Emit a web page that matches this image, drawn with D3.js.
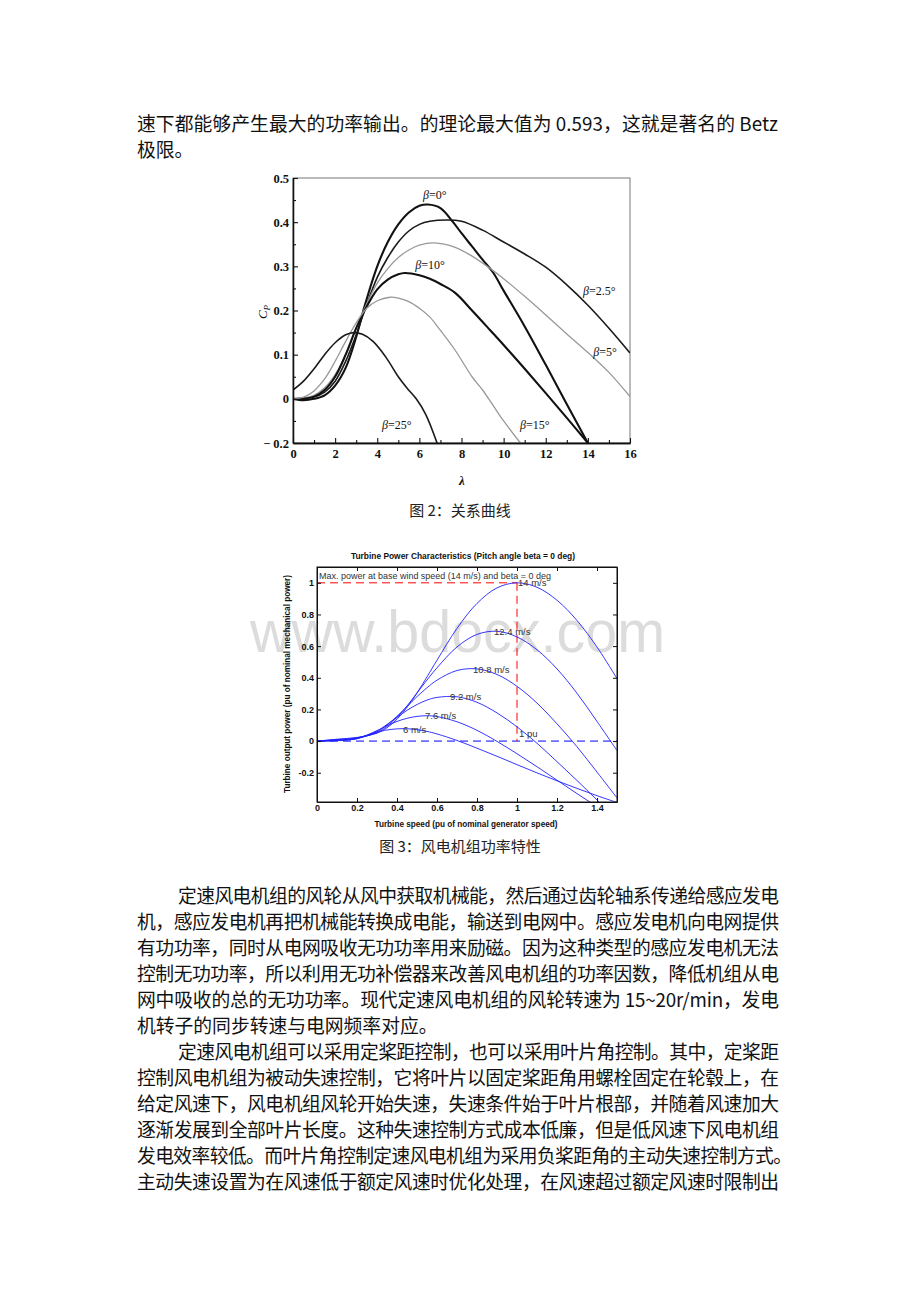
<!DOCTYPE html>
<html><head><meta charset="utf-8">
<script src="https://cdn.jsdelivr.net/npm/d3@7"></script>
<style>body{margin:0;background:#fff}svg{display:block}</style>
</head><body>
<svg id="page" width="920" height="1302"></svg>
<script>
// ---------- Figure 2 data: Cp vs lambda for pitch angles ----------
const betaLabels = ["β=0°", "β=2.5°", "β=5°", "β=10°", "β=15°", "β=25°"];
const lambdaB0  = [0,0.5,1,1.5,2,2.5,3,3.4,4,4.5,5,5.5,6,6.4,7,7.6,8,8.5,9,9.5,10,11,12,13,14];
const cpB0      = [0,-0.003,0,0.008,0.03,0.07,0.14,0.21,0.3,0.355,0.395,0.422,0.437,0.44,0.432,0.40,0.375,0.345,0.315,0.286,0.245,0.164,0.077,-0.012,-0.1];
const lambdaB25 = [0,0.5,1,1.5,2,2.5,3,3.4,4,4.5,5,5.5,6,6.5,7.3,8,9,10,11,12,13,14,15,16];
const cpB25     = [0,0.002,0.004,0.015,0.04,0.085,0.145,0.2,0.275,0.32,0.355,0.38,0.395,0.402,0.405,0.402,0.382,0.355,0.328,0.298,0.258,0.212,0.16,0.104];
const lambdaB5  = [0,0.5,1,1.5,2,2.5,3,3.4,4,4.5,5,5.5,6,6.7,7.7,8.5,9.45,10,11,12,13,14,15,16];
const cpB5      = [0,0.002,0.008,0.025,0.055,0.1,0.16,0.205,0.262,0.295,0.32,0.337,0.348,0.353,0.343,0.323,0.292,0.272,0.232,0.19,0.147,0.105,0.06,0.005];
const lambdaB10 = [0,0.5,1,1.5,2,2.5,3,3.4,4,4.5,5,5.3,6,6.5,7,7.7,8.5,9.35,10,11,12,13,14];
const cpB10     = [0,0,0.005,0.02,0.05,0.1,0.16,0.2,0.248,0.27,0.282,0.285,0.28,0.272,0.26,0.24,0.2,0.156,0.122,0.068,0.013,-0.043,-0.1];
const lambdaB15 = [0,0.5,1,1.5,2,2.5,3,3.5,4,4.6,5,5.5,6,6.5,7,7.7,8.5,9,9.5,10,10.8];
const cpB15     = [0,0.004,0.018,0.045,0.085,0.13,0.172,0.205,0.222,0.23,0.228,0.22,0.205,0.185,0.155,0.11,0.05,0.02,-0.015,-0.05,-0.1];
const lambdaB25b= [0,0.5,1,1.5,2,2.5,2.9,3.3,3.8,4.4,5,5.4,5.85,6.3,6.84];
const cpB25b    = [0.02,0.04,0.068,0.1,0.127,0.145,0.15,0.146,0.13,0.095,0.05,0.025,0,-0.035,-0.1];
// label anchor positions (lambda, Cp)
const betaLabelLambda = [6.17, 13.77, 14.25, 5.8, 10.78, 4.23];
const betaLabelCp     = [0.461, 0.244, 0.106, 0.303, -0.059, -0.059];
const xTicks1 = [0,2,4,6,8,10,12,14,16];
const yTicks1 = [-0.1,0,0.1,0.2,0.3,0.4,0.5];
const yTickLabels1 = ["\u2212 0.2","0","0.1","0.2","0.3","0.4","0.5"];

// ---------- Figure 3 data: turbine power characteristics ----------
const windLabels = ["6 m/s","7.6 m/s","9.2 m/s","10.8 m/s","12.4 m/s","14 m/s"];
const turbineSpeed = [0,0.1,0.2,0.3,0.35,0.4,0.45,0.5,0.55,0.6,0.7,0.8,0.9,1.0,1.1,1.2,1.3,1.4,1.5];
const power6    = [0,0.003,0.019,0.056,0.070,0.077,0.078,0.072,0.061,0.045,0.004,-0.045,-0.096,-0.149,-0.201,-0.251,-0.299,-0.345,-0.388];
const power7_6  = [0,0.003,0.016,0.066,0.097,0.124,0.144,0.156,0.160,0.155,0.122,0.068,-0.002,-0.080,-0.162,-0.247,-0.332,-0.414,-0.494];
const power9_2  = [0,0.005,0.015,0.064,0.105,0.150,0.194,0.231,0.259,0.276,0.280,0.245,0.178,0.090,-0.014,-0.130,-0.249,-0.372,-0.497];
const power10_8 = [0,0.007,0.016,0.058,0.101,0.157,0.218,0.281,0.337,0.385,0.446,0.456,0.421,0.346,0.240,0.109,-0.036,-0.196,-0.359];
const power12_4 = [0,0.009,0.021,0.053,0.092,0.150,0.222,0.304,0.386,0.463,0.595,0.674,0.694,0.658,0.577,0.456,0.302,0.124,-0.060];
const power14   = [0,0.012,0.023,0.050,0.084,0.138,0.213,0.304,0.406,0.511,0.712,0.870,0.968,1.0,0.972,0.890,0.762,0.594,0.395];
const windLabelSpeed = [0.43,0.54,0.665,0.78,0.885,1.005];
const windLabelPower = [0.075,0.16,0.28,0.455,0.69,1.0];
const xTicks2 = [0,0.2,0.4,0.6,0.8,1,1.2,1.4];
const xTickLabels2 = ["0","0.2","0.4","0.6","0.8","1","1.2","1.4"];
const yTicks2 = [-0.2,0,0.2,0.4,0.6,0.8,1];
const yTickLabels2 = ["-0.2","0","0.2","0.4","0.6","0.8","1"];

// ---------- page text ----------
const paraLines = [
 {t:"速下都能够产生最大的功率输出。的理论最大值为 0.593，这就是著名的 Betz", x:137, y:124, w:641},
 {t:"极限。", x:137, y:150},
 {t:"定速风电机组的风轮从风中获取机械能，然后通过齿轮轴系传递给感应发电", x:178, y:896, w:601},
 {t:"机，感应发电机再把机械能转换成电能，输送到电网中。感应发电机向电网提供", x:137, y:922, w:642},
 {t:"有功功率，同时从电网吸收无功功率用来励磁。因为这种类型的感应发电机无法", x:137, y:948, w:642},
 {t:"控制无功功率，所以利用无功补偿器来改善风电机组的功率因数，降低机组从电", x:137, y:974, w:642},
 {t:"网中吸收的总的无功功率。现代定速风电机组的风轮转速为 15~20r/min，发电", x:137, y:1000, w:642},
 {t:"机转子的同步转速与电网频率对应。", x:137, y:1026},
 {t:"定速风电机组可以采用定桨距控制，也可以采用叶片角控制。其中，定桨距", x:178, y:1052, w:601},
 {t:"控制风电机组为被动失速控制，它将叶片以固定桨距角用螺栓固定在轮毂上，在", x:137, y:1078, w:642},
 {t:"给定风速下，风电机组风轮开始失速，失速条件始于叶片根部，并随着风速加大", x:137, y:1104, w:642},
 {t:"逐渐发展到全部叶片长度。这种失速控制方式成本低廉，但是低风速下风电机组", x:137, y:1130, w:642},
 {t:"发电效率较低。而叶片角控制定速风电机组为采用负桨距角的主动失速控制方式。", x:137, y:1156, w:655},
 {t:"主动失速设置为在风速低于额定风速时优化处理，在风速超过额定风速时限制出", x:137, y:1182, w:642}
];

const svg = d3.select("#page");
svg.append("rect").attr("width",920).attr("height",1302).attr("fill","#fff");
const CJK = "'Noto Sans CJK SC', sans-serif";

paraLines.forEach(l => {
  const t = svg.append("text").attr("x", l.x).attr("y", l.y + 7)
    .attr("font-family", CJK).attr("font-size", 18.8).attr("fill", "#111").text(l.t);
  if (l.w) t.attr("textLength", l.w).attr("lengthAdjust", "spacing");
});
svg.append("text").attr("x",460).attr("y",515.5).attr("text-anchor","middle")
  .attr("font-family",CJK).attr("font-size",15).attr("fill","#222").text("图 2：关系曲线");
svg.append("text").attr("x",460).attr("y",851.5).attr("text-anchor","middle")
  .attr("font-family",CJK).attr("font-size",15).attr("fill","#222").text("图 3：风电机组功率特性");

// ================= Figure 2 =================
const SERIF = "'Liberation Serif', 'Times New Roman', serif";
const x1 = d3.scaleLinear([0,16],[293,630]);
const y1 = d3.scaleLinear([-0.1,0.5],[443,178]);
const g1 = svg.append("g");
g1.append("clipPath").attr("id","clip1").append("rect")
  .attr("x",293).attr("y",178).attr("width",337).attr("height",265);
g1.append("rect").attr("x",293).attr("y",178).attr("width",337).attr("height",265)
  .attr("fill","none").attr("stroke","#777").attr("stroke-width",1);

const series1 = [
  {lam: lambdaB0, cp: cpB0, color:"#111", w:2.1},
  {lam: lambdaB25, cp: cpB25, color:"#1a1a1a", w:1.6},
  {lam: lambdaB5, cp: cpB5, color:"#999", w:1.3},
  {lam: lambdaB10, cp: cpB10, color:"#111", w:2.1},
  {lam: lambdaB15, cp: cpB15, color:"#999", w:1.3},
  {lam: lambdaB25b, cp: cpB25b, color:"#1a1a1a", w:1.6}
];
const line1 = d3.line().x(d=>x1(d[0])).y(d=>y1(d[1])).curve(d3.curveCatmullRom.alpha(0.5));
const plot1 = g1.append("g").attr("clip-path","url(#clip1)");
series1.forEach(s => {
  plot1.append("path").datum(s.lam.map((l,i)=>[l,s.cp[i]]))
    .attr("d", line1).attr("fill","none").attr("stroke", s.color).attr("stroke-width", s.w)
    .attr("stroke-linejoin","round");
});

// axes
const axL1 = g1.append("g").attr("transform","translate(293,0)")
  .call(d3.axisLeft(y1).tickValues(yTicks1).tickFormat((d,i)=>yTickLabels1[i]).tickSize(-5).tickSizeOuter(0).tickPadding(4));
g1.append("g").attr("transform","translate(293,0)")
  .call(d3.axisLeft(y1).tickValues(yTicks1.slice(0,-1).map(v=>v+0.05)).tickFormat("").tickSize(-3).tickSizeOuter(0));
const axB1 = g1.append("g").attr("transform","translate(0,443)")
  .call(d3.axisBottom(x1).tickValues(xTicks1).tickSize(-5).tickSizeOuter(0).tickPadding(6));
g1.append("g").attr("transform","translate(0,443)")
  .call(d3.axisBottom(x1).tickValues(xTicks1.slice(0,-1).map(v=>v+1)).tickFormat("").tickSize(-3).tickSizeOuter(0));
g1.selectAll(".domain").attr("stroke","#111").attr("stroke-width",1.3);
g1.selectAll(".tick line").attr("stroke","#111").attr("stroke-width",1.1);
[axL1, axB1].forEach(a => a.selectAll("text").attr("font-family",SERIF).attr("font-size",12.5)
  .attr("font-weight","bold").attr("fill","#111"));

// axis titles
const cpLab = g1.append("text").attr("transform","translate(267,312) rotate(-90)")
  .attr("text-anchor","middle").attr("font-family",SERIF).attr("font-size",13).attr("fill","#111");
cpLab.append("tspan").attr("font-style","italic").text("C");
cpLab.append("tspan").attr("font-style","italic").attr("font-size",9).attr("dy",3).text("P");
g1.append("text").attr("x",462).attr("y",485).attr("text-anchor","middle")
  .attr("font-family",SERIF).attr("font-style","italic").attr("font-weight","bold").attr("font-size",13).attr("fill","#111").text("λ");

// series labels
betaLabels.forEach((lab,i) => {
  const t = g1.append("text").attr("x", x1(betaLabelLambda[i])).attr("y", y1(betaLabelCp[i]) + 4)
    .attr("font-family",SERIF).attr("font-size",12).attr("fill","#111");
  t.append("tspan").attr("font-style","italic").text("β");
  t.append("tspan").text(lab.slice(1));
});

// ================= Figure 3 =================
const SANS = "'Liberation Sans', Arial, sans-serif";
// watermark (behind the chart)
svg.append("text").attr("x",250).attr("y",652).attr("font-family",SANS).attr("font-size",60)
  .attr("fill","#dcdcdc").attr("textLength",415).attr("lengthAdjust","spacingAndGlyphs").text("www.bdocx.com");

const x2 = d3.scaleLinear([0,1.5],[317,617]);
const y2 = d3.scaleLinear([-0.385,1.1],[802,567]);
const g2 = svg.append("g");
g2.append("clipPath").attr("id","clip2").append("rect")
  .attr("x",317).attr("y",567).attr("width",300).attr("height",235);

// reference dashed lines
const plot2 = g2.append("g").attr("clip-path","url(#clip2)");
plot2.append("line").attr("x1",x2(0)).attr("x2",x2(1.5)).attr("y1",y2(0)).attr("y2",y2(0))
  .attr("stroke","#0000ff").attr("stroke-width",1).attr("stroke-dasharray","8,5");
plot2.append("line").attr("x1",x2(0)).attr("x2",x2(1)).attr("y1",y2(1)).attr("y2",y2(1))
  .attr("stroke","#ff0000").attr("stroke-width",1).attr("stroke-dasharray","8,5");
plot2.append("line").attr("x1",x2(1)).attr("x2",x2(1)).attr("y1",y2(1)).attr("y2",y2(0))
  .attr("stroke","#ff0000").attr("stroke-width",1).attr("stroke-dasharray","8,5");

const series2 = [power6, power7_6, power9_2, power10_8, power12_4, power14];
const line2 = d3.line().x(d=>x2(d[0])).y(d=>y2(d[1])).curve(d3.curveCatmullRom.alpha(0.5));
series2.forEach(p => {
  plot2.append("path").datum(turbineSpeed.map((s,i)=>[s,p[i]]))
    .attr("d", line2).attr("fill","none").attr("stroke","#2020ff").attr("stroke-width",0.9);
});
windLabels.forEach((lab,i) => {
  g2.append("text").attr("x", x2(windLabelSpeed[i])).attr("y", y2(windLabelPower[i]) + 3.5)
    .attr("font-family",SANS).attr("font-size",9.5).attr("fill","#333").text(lab);
});
g2.append("text").attr("x", x2(1.01)).attr("y", y2(0.05) + 3.5)
  .attr("font-family",SANS).attr("font-size",9.5).attr("fill","#333").text("1 pu");
g2.append("text").attr("x",319).attr("y",579).attr("font-family",SANS).attr("font-size",9.5)
  .attr("fill","#333").attr("textLength",232).attr("lengthAdjust","spacingAndGlyphs")
  .text("Max. power at base wind speed (14 m/s) and beta = 0 deg");

// frame and axes
g2.append("rect").attr("x",317).attr("y",567).attr("width",300).attr("height",235)
  .attr("fill","none").attr("stroke","#111").attr("stroke-width",1);
const axL2 = g2.append("g").attr("transform","translate(317,0)")
  .call(d3.axisLeft(y2).tickValues(yTicks2).tickFormat((d,i)=>yTickLabels2[i]).tickSize(-4).tickSizeOuter(0).tickPadding(3));
g2.append("g").attr("transform","translate(617,0)")
  .call(d3.axisRight(y2).tickValues(yTicks2).tickFormat("").tickSize(-4).tickSizeOuter(0));
const axB2 = g2.append("g").attr("transform","translate(0,802)")
  .call(d3.axisBottom(x2).tickValues(xTicks2).tickFormat((d,i)=>xTickLabels2[i]).tickSize(-4).tickSizeOuter(0).tickPadding(3));
g2.append("g").attr("transform","translate(0,567)")
  .call(d3.axisTop(x2).tickValues(xTicks2).tickFormat("").tickSize(-4).tickSizeOuter(0));
g2.selectAll(".domain").attr("stroke","#111");
g2.selectAll(".tick line").attr("stroke","#111");
[axL2, axB2].forEach(a => a.selectAll("text").attr("font-family",SANS).attr("font-size",9)
  .attr("font-weight","bold").attr("fill","#111"));

g2.append("text").attr("x",463).attr("y",559).attr("text-anchor","middle").attr("font-family",SANS)
  .attr("font-size",9).attr("font-weight","bold").attr("fill","#111")
  .attr("textLength",224).attr("lengthAdjust","spacingAndGlyphs")
  .text("Turbine Power Characteristics (Pitch angle beta = 0 deg)");
g2.append("text").attr("x",466).attr("y",827).attr("text-anchor","middle").attr("font-family",SANS)
  .attr("font-size",9).attr("font-weight","bold").attr("fill","#111")
  .attr("textLength",183).attr("lengthAdjust","spacingAndGlyphs")
  .text("Turbine speed (pu of nominal generator speed)");
g2.append("text").attr("transform","translate(290,684) rotate(-90)").attr("text-anchor","middle")
  .attr("font-family",SANS).attr("font-size",9).attr("font-weight","bold").attr("fill","#111")
  .attr("textLength",218).attr("lengthAdjust","spacingAndGlyphs")
  .text("Turbine output power (pu of nominal mechanical power)");
</script>
</body></html>
